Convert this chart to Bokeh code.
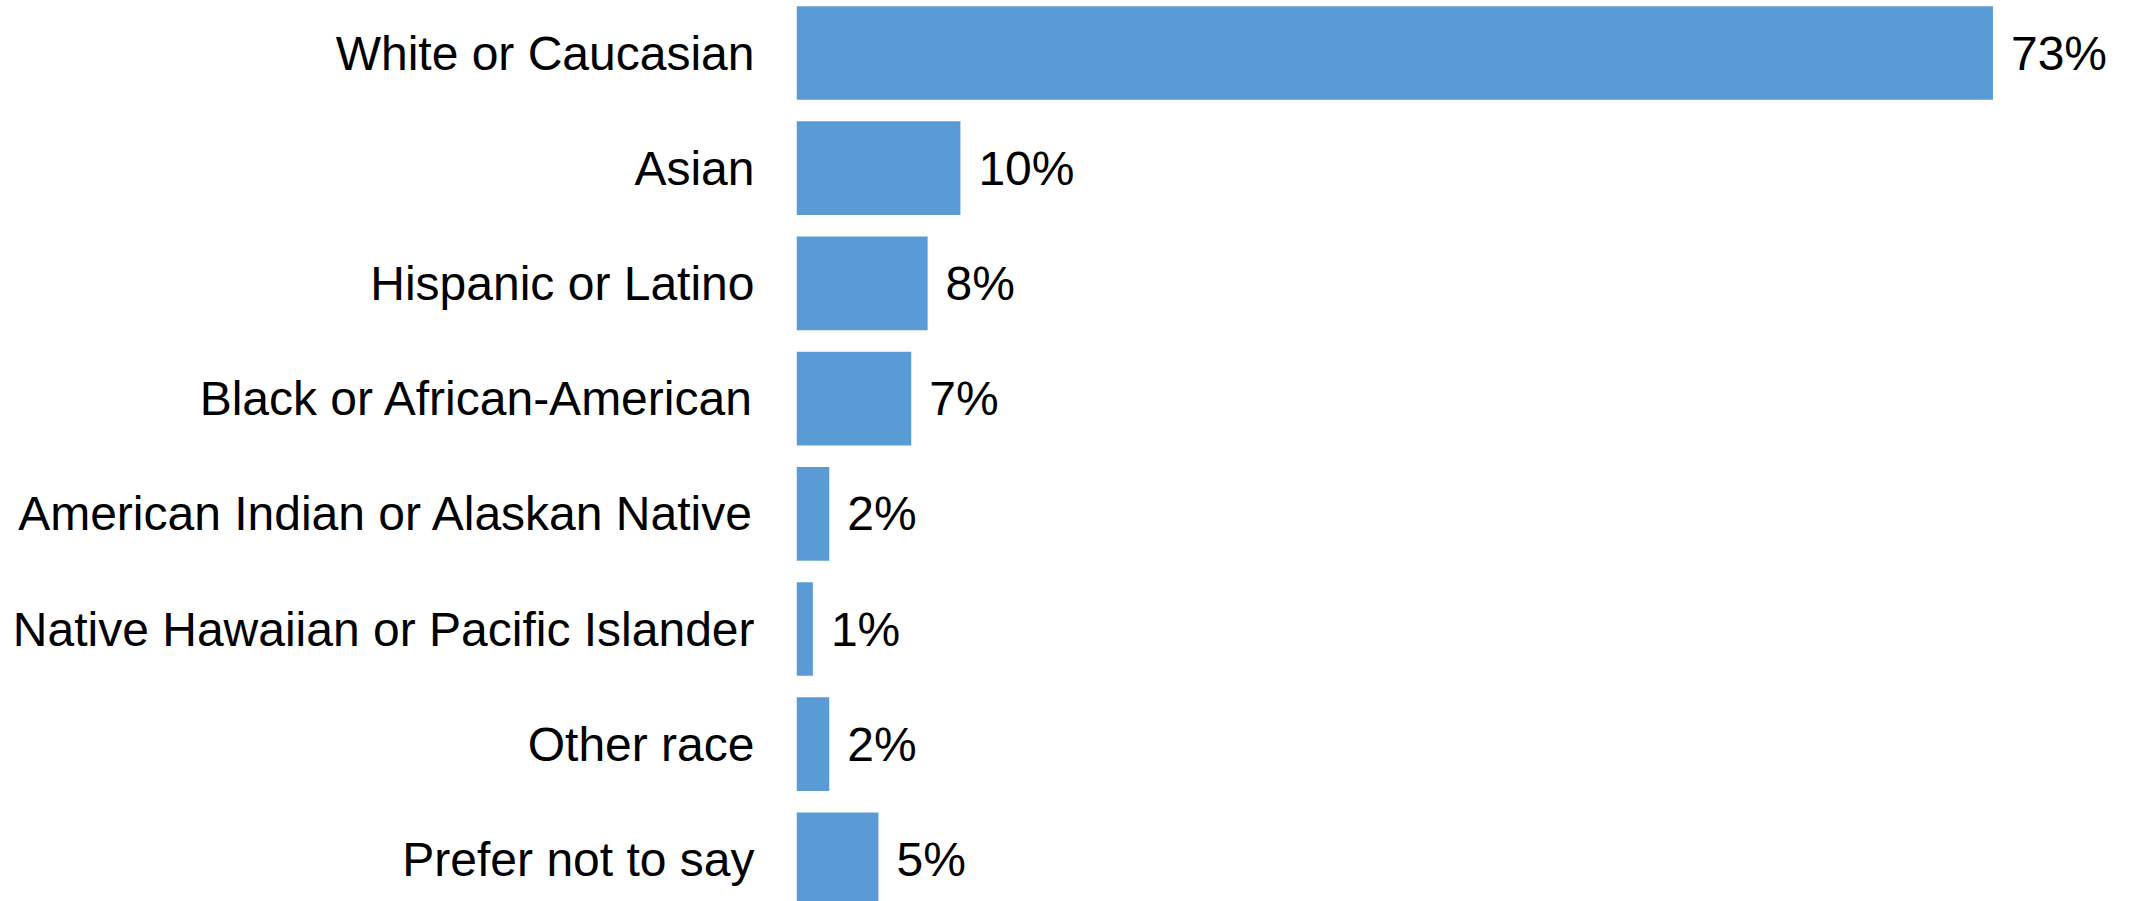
from bokeh.plotting import figure
from bokeh.models import ColumnDataSource, Range1d, FixedTicker
from bokeh.core.properties import value
from bokeh.embed import file_html
from bokeh.resources import INLINE

categories = [
    "White or Caucasian",
    "Asian",
    "Hispanic or Latino",
    "Black or African-American",
    "American Indian or Alaskan Native",
    "Native Hawaiian or Pacific Islander",
    "Other race",
    "Prefer not to say",
]
percents = [73, 10, 8, 7, 2, 1, 2, 5]

ypos = [-i for i in range(len(categories))]
labels = [f"{v}%" for v in percents]

src = ColumnDataSource(dict(y=ypos, v=percents, lab=labels, cat=categories))

W, H = 2131, 901
left = 796
pitch = 115.2
top_val = 52.5 / pitch
bottom_val = top_val - H / pitch
x_end = (W - left) / 16.39

p = figure(width=W, height=H, output_backend="svg", toolbar_location=None,
           x_range=Range1d(0, x_end), y_range=Range1d(bottom_val, top_val),
           min_border_left=left, min_border_right=0, min_border_top=0,
           min_border_bottom=0)
p.outline_line_color = None
p.xgrid.visible = False
p.ygrid.visible = False
p.xaxis.visible = False
p.background_fill_color = "white"
p.border_fill_color = "white"

p.hbar(y="y", left=0, right="v", height=0.813, source=src,
       fill_color="#5B9BD5", line_color=None)

p.text(x="v", y="y", text="lab", source=src, x_offset=18,
       text_baseline="middle", text_align="left",
       text_font=value("Liberation Sans"), text_font_size="48px",
       text_color="black")

ya = p.yaxis[0]
ya.ticker = FixedTicker(ticks=ypos)
ya.major_label_overrides = {y: c for y, c in zip(ypos, categories)}
ya.major_label_text_font = "Liberation Sans"
ya.major_label_text_font_size = "48px"
ya.major_label_text_color = "black"
ya.major_label_standoff = 42
ya.major_tick_line_color = None
ya.minor_tick_line_color = None
ya.axis_line_color = None
ya.major_tick_out = 0
ya.major_tick_in = 0

open("out.html", "w").write(file_html(p, INLINE))
